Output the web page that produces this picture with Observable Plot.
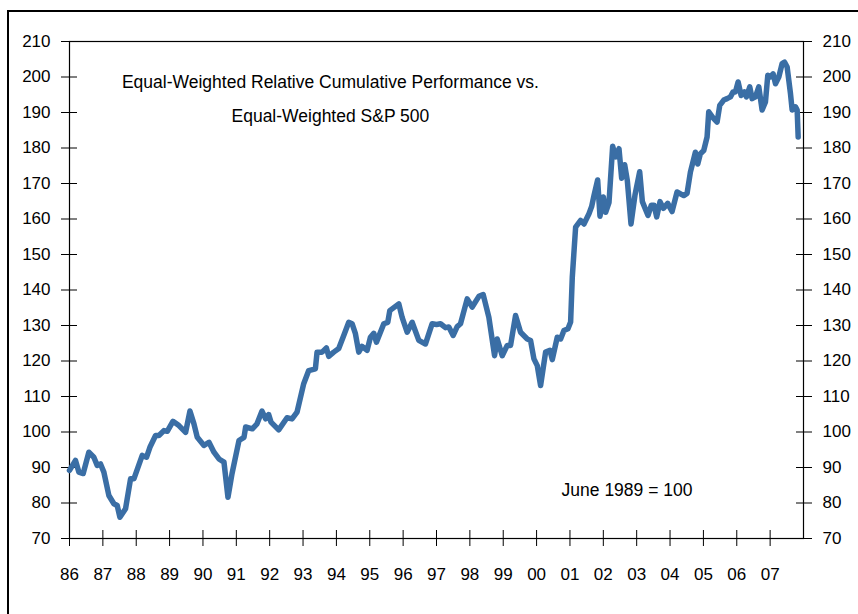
<!DOCTYPE html>
<html><head><meta charset="utf-8">
<script src="https://cdn.jsdelivr.net/npm/d3@7"></script>
<script src="https://cdn.jsdelivr.net/npm/@observablehq/plot@0.6"></script>
<style>
body{margin:0;background:#fff;}
#wrap{position:relative;width:858px;height:614px;overflow:hidden;background:#fff;}
#frame{position:absolute;left:7px;top:10px;width:900px;height:700px;border-left:2px solid #000;border-top:2px solid #000;}
#chart{position:absolute;left:0;top:0;}
</style></head>
<body><div id="wrap"><div id="frame"></div><div id="chart"></div></div>
<script>
// decimal-year dates and relative performance values (June 1989 = 100)
const dates = [
1986.00,1986.18,1986.28,1986.41,1986.58,1986.73,1986.83,1986.93,1987.03,1987.18,
1987.33,1987.43,1987.51,1987.68,1987.83,1987.93,1988.18,1988.31,1988.41,1988.58,
1988.68,1988.83,1988.93,1989.10,1989.28,1989.48,1989.61,1989.73,1989.83,1990.03,
1990.18,1990.33,1990.48,1990.63,1990.75,1990.87,1991.08,1991.23,1991.28,1991.48,
1991.62,1991.77,1991.88,1991.97,1992.04,1992.27,1992.52,1992.67,1992.82,1993.02,
1993.17,1993.37,1993.42,1993.57,1993.70,1993.77,1993.92,1994.07,1994.22,1994.37,
1994.47,1994.57,1994.67,1994.77,1994.92,1995.02,1995.12,1995.20,1995.42,1995.54,
1995.60,1995.87,1995.97,1996.12,1996.27,1996.47,1996.67,1996.87,1997.00,1997.12,
1997.27,1997.37,1997.50,1997.62,1997.72,1997.92,1998.07,1998.27,1998.40,1998.57,
1998.74,1998.82,1998.97,1999.12,1999.22,1999.37,1999.52,1999.72,1999.82,1999.92,
2000.02,2000.12,2000.27,2000.40,2000.47,2000.62,2000.72,2000.82,2000.94,2001.02,
2001.07,2001.17,2001.32,2001.42,2001.57,2001.65,2001.72,2001.83,2001.90,2002.00,
2002.07,2002.17,2002.28,2002.37,2002.47,2002.55,2002.64,2002.72,2002.83,2002.95,
2003.09,2003.17,2003.34,2003.44,2003.52,2003.60,2003.70,2003.80,2003.93,2004.06,
2004.21,2004.41,2004.51,2004.61,2004.76,2004.83,2004.91,2005.01,2005.11,2005.16,
2005.29,2005.41,2005.49,2005.61,2005.71,2005.81,2005.89,2005.96,2006.04,2006.13,
2006.23,2006.29,2006.39,2006.46,2006.56,2006.66,2006.76,2006.86,2006.93,2007.01,
2007.09,2007.16,2007.26,2007.36,2007.43,2007.51,2007.61,2007.66,2007.76,2007.81,
2007.84
];
const values = [
89.2,92.0,88.7,88.3,94.3,92.9,90.6,91.0,88.7,82.1,
79.8,79.3,76.0,78.4,86.8,86.8,93.4,92.9,95.7,99.0,
99.0,100.4,100.2,103.0,101.8,99.9,105.9,102.3,98.5,96.2,
97.1,94.3,92.4,91.5,81.6,88.2,97.6,98.5,101.4,100.9,
102.3,105.9,103.7,104.9,102.8,100.6,104.0,103.7,105.6,113.6,
117.3,117.8,122.5,122.5,123.7,121.3,122.5,123.5,127.2,130.9,
130.5,127.7,122.5,124.1,123.0,126.7,127.8,125.3,130.5,130.9,
134.2,136.1,132.3,128.1,130.9,125.8,124.8,130.5,130.3,130.5,
129.4,129.6,127.2,129.7,130.5,137.5,135.2,138.2,138.7,132.3,
121.5,126.2,121.5,124.4,124.4,132.8,128.1,126.2,125.8,120.6,
118.7,113.1,122.5,123.0,120.4,126.7,126.2,128.6,129.1,131.0,
143.6,157.7,159.6,158.6,161.5,163.5,166.6,171.0,160.8,166.2,
161.9,164.6,180.5,177.5,179.8,171.5,175.3,170.8,158.6,166.8,
173.3,164.9,161.0,163.9,163.9,160.6,164.9,163.0,164.4,162.1,
167.6,166.6,167.2,173.2,178.8,175.5,178.4,179.3,183.1,190.2,
188.5,187.3,192.0,193.5,193.9,194.4,195.8,195.8,198.6,194.8,
195.8,194.4,197.2,193.9,194.4,197.2,190.7,193.0,200.5,200.0,
200.9,198.1,200.0,203.8,204.2,202.8,195.3,190.7,191.6,190.7,
183.1
];
const yearTicks = d3.range(1986, 2008);
const yTicks = d3.range(70, 211, 10);
const titleLines = ["Equal-Weighted Relative Cumulative Performance vs.", "Equal-Weighted S&P 500"];
const noteText = "June 1989 = 100";

const series = dates.map((d, i) => ({date: d, value: values[i]}));
const fmtYear = d => String(d % 100).padStart(2, "0");

const chart = Plot.plot({
  width: 858,
  height: 614,
  marginLeft: 69,
  marginRight: 55,
  marginTop: 41,
  marginBottom: 76,
  style: {fontFamily: "'Liberation Sans', Arial, sans-serif", fontSize: "17px", background: "transparent", color: "#000", overflow: "visible"},
  x: {domain: [1986, 2008]},
  y: {domain: [70, 210]},
  marks: [
    Plot.frame({stroke: "#000", strokeWidth: 1.2}),
    Plot.axisY(yTicks, {anchor: "left", tickSize: 8, tickPadding: 11, label: null, fontSize: 17}),
    Plot.axisY(yTicks, {anchor: "left", tickSize: -8, text: null, label: null}),
    Plot.axisY(yTicks, {anchor: "right", tickSize: 8, tickPadding: 11, label: null, fontSize: 17}),
    Plot.axisY(yTicks, {anchor: "right", tickSize: -8, text: null, label: null}),
    Plot.axisX(yearTicks, {anchor: "bottom", tickSize: 8, tickPadding: 21, tickFormat: fmtYear, label: null, fontSize: 17}),
    Plot.axisX(yearTicks, {anchor: "bottom", tickSize: -8, text: null, label: null}),
    Plot.line(series, {x: "date", y: "value", stroke: "#3a6ea5", strokeWidth: 5.5, strokeLinejoin: "round", strokeLinecap: "round"}),
    Plot.text([titleLines[0]], {x: 1993.82, y: 198.5, text: d => d, fontSize: 17.5, fill: "#000"}),
    Plot.text([titleLines[1]], {x: 1993.82, y: 188.9, text: d => d, fontSize: 17.5, fill: "#000"}),
    Plot.text([noteText], {x: 2002.71, y: 83.5, text: d => d, fontSize: 17.5, fill: "#000"})
  ]
});
document.getElementById("chart").appendChild(chart);
</script>
</body></html>
